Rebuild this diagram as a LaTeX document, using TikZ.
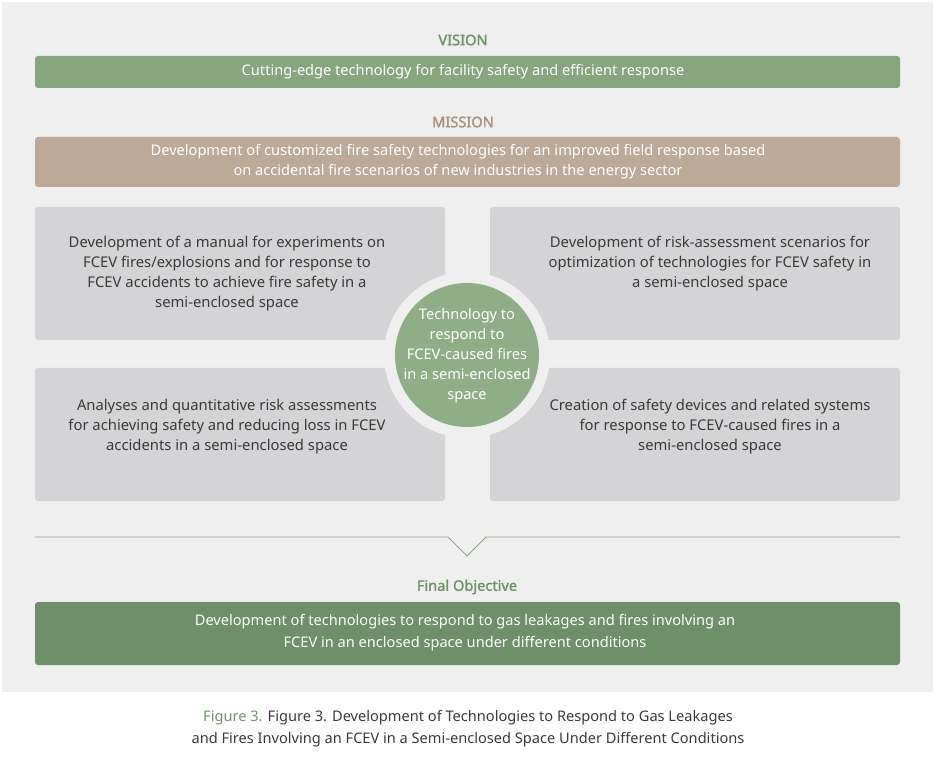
\documentclass[tikz,border=0pt]{standalone}
\usepackage{fontspec}
\setmainfont{Noto Sans}
\definecolor{bg}{HTML}{EFEFEF}
\definecolor{vgreen}{HTML}{87A57F}
\definecolor{tgreen}{HTML}{6F9468}
\definecolor{dgreen}{HTML}{6E8F69}
\definecolor{tan}{HTML}{BCA998}
\definecolor{tantext}{HTML}{A8927C}
\definecolor{gbox}{HTML}{D4D4D6}
\definecolor{txt}{HTML}{3A3A3A}
\definecolor{cgreen}{HTML}{8FAE87}
\begin{document}
\begin{tikzpicture}[x=1pt,y=-1pt,
  bar/.style={rounded corners=3pt,draw=none},
  bartext/.style={text=white,font=\fontsize{14.6}{17}\selectfont,align=center},
  boxtext/.style={text=txt,font=\fontsize{14.8}{20}\selectfont,align=center},
  head/.style={font=\fontsize{14.6}{17}\selectfont\addfontfeature{FakeBold=1.5}}]
\useasboundingbox (0,0) rectangle (935,759);
\fill[bg] (2,2) rectangle (933,692);
\node[head,text=tgreen] (vis) at (463,40) {VISION};
\fill[bar,vgreen] (35,56) rectangle (900,88);
\node[bartext] (vt) at (463,72) {Cutting-edge technology for facility safety and efficient response};
\node[head,text=tantext] (mis) at (463,122) {MISSION};
\fill[bar,tan] (35,137) rectangle (900,187);
\node[bartext,font=\fontsize{14.6}{20}\selectfont] (mt) at (458,162) {Development of customized fire safety technologies for an improved field response based\\on accidental fire scenarios of new industries in the energy sector};
\fill[bar,gbox] (35,207) rectangle (445,340);
\fill[bar,gbox] (490,207) rectangle (900,340);
\fill[bar,gbox] (35,368) rectangle (445,501);
\fill[bar,gbox] (490,368) rectangle (900,501);
\node[boxtext] (b1) at (227,274) {Development of a manual for experiments on\\FCEV fires/explosions and for response to\\FCEV accidents to achieve fire safety in a\\semi-enclosed space};
\node[boxtext] (b2) at (710,264) {Development of risk-assessment scenarios for\\optimization of technologies for FCEV safety in\\a semi-enclosed space};
\node[boxtext] (b3) at (227,427) {Analyses and quantitative risk assessments\\for achieving safety and reducing loss in FCEV\\accidents in a semi-enclosed space};
\node[boxtext] (b4) at (710,427) {Creation of safety devices and related systems\\for response to FCEV-caused fires in a\\semi-enclosed space};
\fill[bg] (467,355) circle (83);
\fill[cgreen] (467,355) circle (72);
\node[bartext,font=\fontsize{14.6}{20}\selectfont] (c) at (467,356) {Technology to\\respond to\\FCEV-caused fires\\in a semi-enclosed\\space};
\coordinate (l1) at (35,537); \coordinate (l2) at (448,537); \coordinate (l3) at (467,556);
\coordinate (l4) at (486,537); \coordinate (l5) at (900,537);
\draw[vgreen,line width=0.9pt] (l1) -- (l2) -- (l3) -- (l4) -- (l5);
\node[head,text=tgreen] (fo) at (467,587) {Final Objective};
\fill[bar,dgreen] (35,602) rectangle (900,665);
\node[bartext,font=\fontsize{14.6}{22}\selectfont] (ft) at (465,633) {Development of technologies to respond to gas leakages and fires involving an\\FCEV in an enclosed space under different conditions};
\node[text=txt,font=\fontsize{14.6}{22}\selectfont,align=center] (cap) at (468,729) {\textcolor{tgreen}{Figure 3.} Figure 3. Development of Technologies to Respond to Gas Leakages\\and Fires Involving an FCEV in a Semi-enclosed Space Under Different Conditions};
\end{tikzpicture}
\end{document}
